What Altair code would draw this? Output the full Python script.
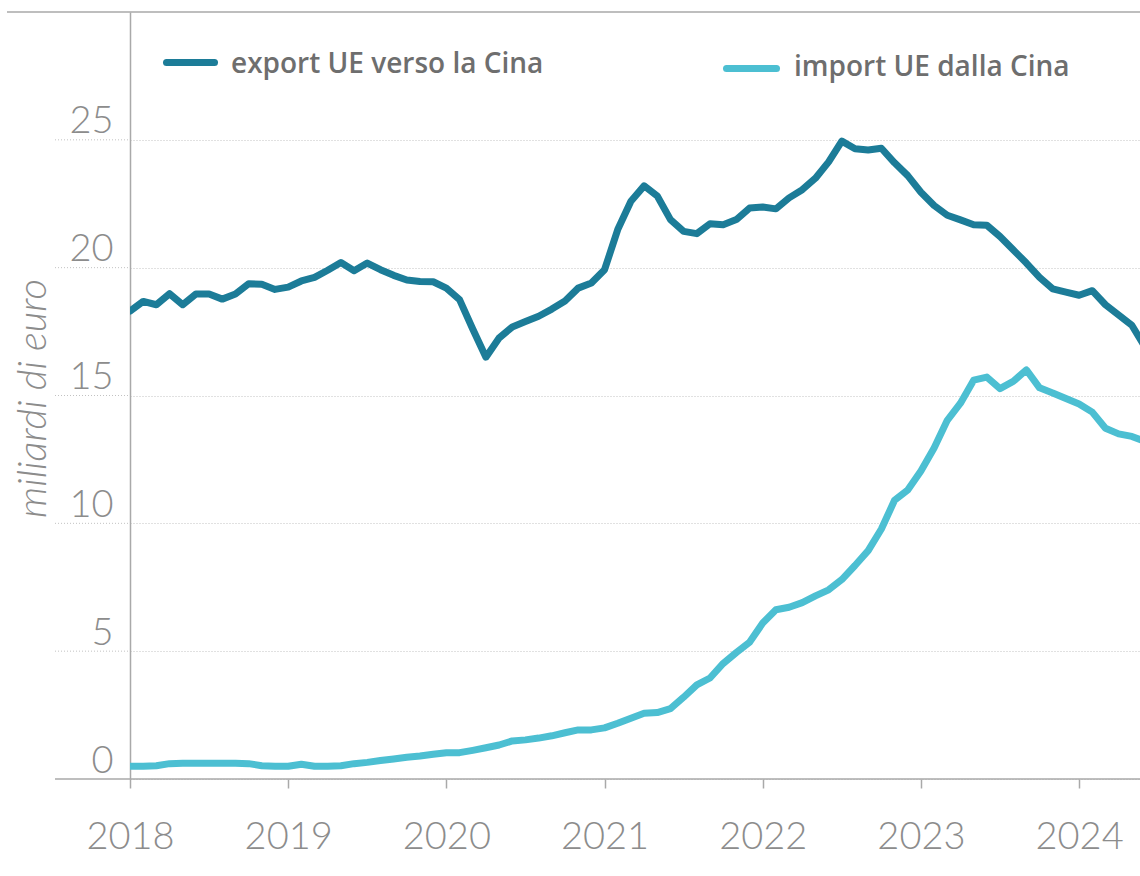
import altair as alt
import pandas as pd

# ---------------- data (monthly, billions of euro) ----------------
n_months = 78
months = [f"{2018 + i // 12}-{i % 12 + 1:02d}" for i in range(n_months)]

export_ue = [
    18.30, 18.68, 18.55, 18.98, 18.55, 18.97, 18.97, 18.77, 18.97, 19.37, 19.35, 19.15,  # 2018
    19.24, 19.48, 19.62, 19.90, 20.20, 19.88, 20.18, 19.92, 19.70, 19.52, 19.46, 19.45,  # 2019
    19.20, 18.75, 17.60, 16.50, 17.25, 17.68, 17.89, 18.10, 18.38, 18.70, 19.20, 19.40,  # 2020
    19.92, 21.49, 22.60, 23.20, 22.80, 21.88, 21.42, 21.33, 21.72, 21.68, 21.88, 22.33,  # 2021
    22.37, 22.30, 22.73, 23.05, 23.50, 24.14, 24.95, 24.65, 24.60, 24.67, 24.10, 23.60,  # 2022
    22.95, 22.43, 22.05, 21.87, 21.68, 21.66, 21.22, 20.70, 20.18, 19.62, 19.17, 19.04,  # 2023
    18.92, 19.10, 18.55, 18.15, 17.75, 16.90,                                            # 2024
]

import_ue = [
    0.50, 0.50, 0.52, 0.60, 0.62, 0.62, 0.62, 0.62, 0.62, 0.60, 0.52, 0.50,   # 2018
    0.50, 0.58, 0.50, 0.50, 0.52, 0.60, 0.65, 0.72, 0.78, 0.85, 0.90, 0.97,   # 2019
    1.03, 1.03, 1.12, 1.22, 1.33, 1.49, 1.53, 1.60, 1.69, 1.81, 1.92, 1.92,   # 2020
    2.00, 2.18, 2.38, 2.57, 2.60, 2.75, 3.20, 3.68, 3.95, 4.52, 4.95, 5.35,   # 2021
    6.10, 6.62, 6.72, 6.90, 7.16, 7.40, 7.80, 8.35, 8.93, 9.78, 10.90, 11.30, # 2022
    12.05, 12.95, 14.03, 14.70, 15.60, 15.72, 15.27, 15.55, 16.00, 15.30, 15.10, 14.88,  # 2023
    14.67, 14.35, 13.72, 13.50, 13.40, 13.20,                                  # 2024
]

series_names = ["export UE verso la Cina", "import UE dalla Cina"]
series_colors = ["#1c7c98", "#4cbfd2"]

year_ticks = [2018, 2019, 2020, 2021, 2022, 2023, 2024]
value_ticks = [0, 5, 10, 15, 20, 25]

# ---------------- tables ----------------
year_frac = [int(m[:4]) + (int(m[5:]) - 1) / 12 for m in months]
df = pd.DataFrame({
    "t": year_frac + year_frac,
    "value": export_ue + import_ue,
    "serie": [series_names[0]] * n_months + [series_names[1]] * n_months,
})
grid_df = pd.DataFrame({"value": [v for v in value_ticks if v > 0]})
base_df = pd.DataFrame({"value": [0]})
one = pd.DataFrame({"k": [0]})

W, H = 1010, 767
GRAY = "#a9a9a9"
TXT = "#8c8c8c"
FONT = "Lato"

x_scale = alt.Scale(domain=[2018, 2024.385], nice=False, zero=False)
y_scale = alt.Scale(domain=[0, 30], nice=False)

y_axis = alt.Axis(
    values=value_ticks, grid=True, gridDash=[1, 2], gridColor="#c2c2c2", gridWidth=1,
    ticks=False, domain=True, domainColor=GRAY, domainWidth=1.5,
    labelFont=FONT, labelFontWeight=300, labelFontSize=38, labelColor=TXT,
    labelPadding=17, labelOffset=-18, labelBaseline="middle",
    title="miliardi di euro", titleFont=FONT, titleFontStyle="italic",
    titleFontWeight=300, titleFontSize=40, titleColor=TXT, titleAngle=270,
    titleX=-97, titleY=386, titleAlign="center", titleBaseline="middle",
)

lines = alt.Chart(df).mark_line(
    strokeWidth=7, strokeJoin="round", strokeCap="round", clip=True
).encode(
    x=alt.X("t:Q", scale=x_scale, axis=alt.Axis(
        values=year_ticks, format="d", title=None, grid=False, domain=False,
        ticks=True, tickSize=9, tickColor=GRAY, tickWidth=1.5,
        labelFlush=False, labelFont=FONT, labelFontWeight=300, labelFontSize=38,
        labelColor=TXT, labelPadding=49, labelBaseline="middle",
    )),
    y=alt.Y("value:Q", scale=y_scale, axis=y_axis),
    color=alt.Color("serie:N", scale=alt.Scale(domain=series_names, range=series_colors), legend=None),
    detail="serie:N",
)

grid_ext = alt.Chart(grid_df).mark_rule(strokeDash=[1, 2], color="#c2c2c2", strokeWidth=1).encode(
    y=alt.Y("value:Q", scale=y_scale, axis=y_axis),
    x=alt.value(-75), x2=alt.value(0),
)

baseline = alt.Chart(base_df).mark_rule(color=GRAY, strokeWidth=1.5).encode(
    y=alt.Y("value:Q", scale=y_scale, axis=y_axis),
    x=alt.value(-75), x2=alt.value(W),
)

top_rule = alt.Chart(one).mark_rule(color=GRAY, strokeWidth=1.5).encode(
    x=alt.value(-123), x2=alt.value(W), y=alt.value(0),
)

leg_sym1 = alt.Chart(one).mark_rule(strokeWidth=7, strokeCap="round", color=series_colors[0]).encode(
    x=alt.value(36.5), x2=alt.value(84.5), y=alt.value(50.5),
)
leg_txt1 = alt.Chart(one).mark_text(
    align="left", baseline="middle", font="Open Sans", fontSize=28, fontWeight=600, color="#6e6e6e",
    text=series_names[0],
).encode(x=alt.value(101), y=alt.value(53))

leg_sym2 = alt.Chart(one).mark_rule(strokeWidth=7, strokeCap="round", color=series_colors[1]).encode(
    x=alt.value(596.5), x2=alt.value(646.5), y=alt.value(56.5),
)
leg_txt2 = alt.Chart(one).mark_text(
    align="left", baseline="middle", font="Open Sans", fontSize=28, fontWeight=600, color="#6e6e6e",
    text=series_names[1],
).encode(x=alt.value(664), y=alt.value(56))

chart = alt.layer(
    grid_ext, baseline, top_rule, lines, leg_sym1, leg_txt1, leg_sym2, leg_txt2
).properties(
    width=W, height=H,
    padding={"left": 130, "top": 12, "right": 0, "bottom": 97},
    autosize=alt.AutoSizeParams(type="none"),
    background="white",
).configure_view(stroke=None)

chart.save("out.html", embed_options={"renderer": "svg", "actions": False})
